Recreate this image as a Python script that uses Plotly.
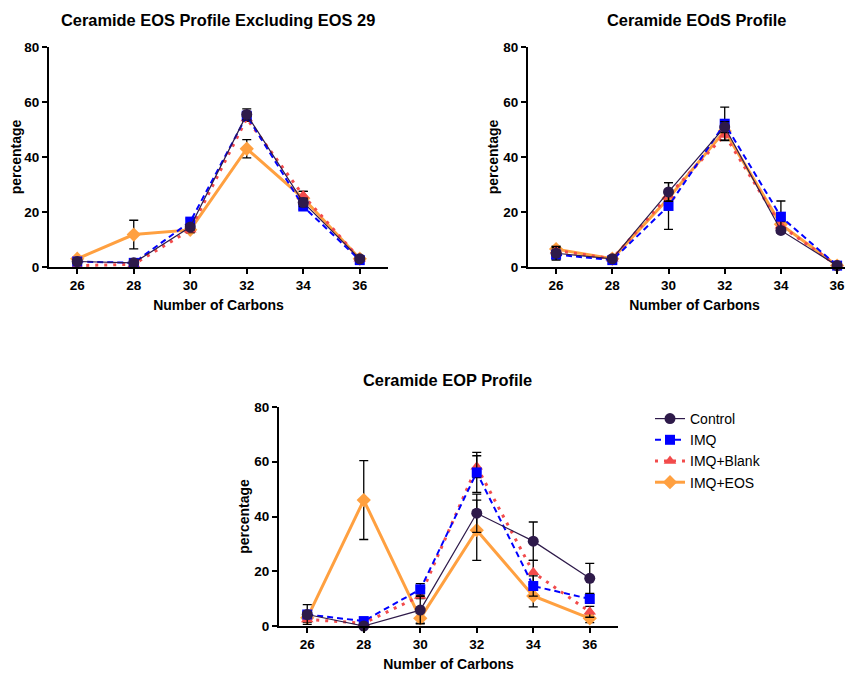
import plotly.graph_objects as go

carbons = [26, 28, 30, 32, 34, 36]
series_names = ["Control", "IMQ", "IMQ+Blank", "IMQ+EOS"]

# Panel 1: Ceramide EOS Profile Excluding EOS 29
eos_control = [2.0, 1.5, 14.5, 55.5, 23.5, 3.0]
eos_imq = [2.0, 1.5, 16.5, 55.0, 22.0, 2.5]
eos_blank = [0.5, 1.0, 13.5, 54.0, 26.0, 3.0]
eos_eos = [3.0, 11.8, 13.5, 43.0, 25.0, 3.0]
eos_control_err = [0.5, 0.5, 1.0, 2.0, 1.5, 0.5]
eos_imq_err = [0.5, 0.5, 1.0, 1.0, 1.0, 0.5]
eos_blank_err = [0.3, 0.3, 1.0, 1.0, 1.5, 0.5]
eos_eos_err = [0.5, 5.2, 1.0, 3.3, 2.5, 0.5]

# Panel 2: Ceramide EOdS Profile
eods_control = [5.0, 3.0, 27.3, 50.9, 13.3, 0.5]
eods_imq = [4.5, 2.5, 22.2, 52.1, 18.3, 0.5]
eods_blank = [6.0, 3.0, 26.0, 48.0, 15.0, 0.5]
eods_eos = [6.5, 3.0, 25.0, 49.5, 15.5, 0.5]
eods_control_err = [2.5, 0.5, 3.4, 2.0, 1.0, 0.3]
eods_imq_err = [1.5, 0.5, 8.5, 6.0, 5.7, 0.3]
eods_blank_err = [1.0, 0.5, 2.0, 2.0, 1.5, 0.3]
eods_eos_err = [1.0, 0.5, 2.0, 2.0, 1.5, 0.3]

# Panel 3: Ceramide EOP Profile
eop_control = [4.2, 0.0, 5.8, 41.2, 31.0, 17.4]
eop_imq = [4.2, 1.8, 13.4, 56.1, 14.6, 9.9]
eop_blank = [2.4, 1.0, 11.0, 58.2, 19.6, 5.2]
eop_eos = [3.0, 46.0, 2.8, 35.0, 11.0, 2.8]
eop_control_err = [3.6, 0.3, 5.0, 7.0, 7.0, 5.5]
eop_imq_err = [1.0, 0.5, 2.1, 7.3, 3.7, 1.6]
eop_blank_err = [1.0, 0.5, 1.0, 4.0, 4.4, 2.0]
eop_eos_err = [1.5, 14.4, 1.8, 11.0, 4.0, 1.6]

y_ticks = [0, 20, 40, 60, 80]
x_ticks = [26, 28, 30, 32, 34, 36]

panel_titles = ["Ceramide EOS Profile Excluding EOS 29", "Ceramide EOdS Profile", "Ceramide EOP Profile"]
x_title = "Number of Carbons"
y_title = "percentage"

styles = {
    "Control": dict(color="#2E1A4A", symbol="circle", dash="solid", width=1.2, size=11),
    "IMQ": dict(color="#0000FF", symbol="square", dash="6px,4px", width=2, size=10),
    "IMQ+Blank": dict(color="#F24B4B", symbol="triangle-up", dash="3px,6px", width=3, size=11),
    "IMQ+EOS": dict(color="#FFA040", symbol="diamond", dash="solid", width=3, size=11),
}

panels = [
    ("x", "y", {"Control": (eos_control, eos_control_err), "IMQ": (eos_imq, eos_imq_err),
                "IMQ+Blank": (eos_blank, eos_blank_err), "IMQ+EOS": (eos_eos, eos_eos_err)}),
    ("x2", "y2", {"Control": (eods_control, eods_control_err), "IMQ": (eods_imq, eods_imq_err),
                  "IMQ+Blank": (eods_blank, eods_blank_err), "IMQ+EOS": (eods_eos, eods_eos_err)}),
    ("x3", "y3", {"Control": (eop_control, eop_control_err), "IMQ": (eop_imq, eop_imq_err),
                  "IMQ+Blank": (eop_blank, eop_blank_err), "IMQ+EOS": (eop_eos, eop_eos_err)}),
]

fig = go.Figure()
draw_order = ["IMQ+EOS", "IMQ+Blank", "IMQ", "Control"]
for pi, (xa, ya, data) in enumerate(panels):
    for name in draw_order:
        vals, errs = data[name]
        st = styles[name]
        fig.add_trace(go.Scatter(
            x=carbons, y=vals, name=name, xaxis=xa, yaxis=ya,
            mode="lines+markers", cliponaxis=False,
            line=dict(color=st["color"], dash=st["dash"], width=st["width"]),
            marker=dict(color=st["color"], symbol=st["symbol"], size=st["size"]),
            error_y=dict(type="data", array=errs, color="black", thickness=1.3, width=4.5),
            showlegend=(pi == 2), legendrank=series_names.index(name) + 1,
        ))

W, H = 853, 673
OFF = 8  # page body margin offset
font_family = "Liberation Sans, Arial, sans-serif"

def xaxis(x0, x1, rng, anchor):
    return dict(domain=[(x0 - OFF) / W, min(1, (x1 - OFF) / W)], range=rng, tickvals=x_ticks, anchor=anchor,
                automargin=False,
                showgrid=False, zeroline=False, showline=True, linecolor="black", linewidth=2,
                ticks="outside", ticklen=5, tickwidth=2, tickcolor="black",
                tickfont=dict(family=font_family, size=13.5, color="black", weight="bold"),
                title=dict(text=x_title, standoff=8,
                           font=dict(family=font_family, size=14, color="black", weight="bold")))

def yaxis(ytop, ybot, anchor):
    return dict(domain=[1 - (ybot - OFF) / H, 1 - (ytop - OFF) / H], range=[0, 80], tickvals=y_ticks,
                anchor=anchor, automargin=False,
                showgrid=False, zeroline=False, showline=True, linecolor="black", linewidth=2,
                ticks="outside", ticklen=5, tickwidth=2, tickcolor="black",
                tickfont=dict(family=font_family, size=13.5, color="black", weight="bold"),
                title=dict(text=y_title, standoff=1,
                           font=dict(family=font_family, size=14, color="black", weight="bold")))

fig.update_layout(
    width=W, height=H, margin=dict(l=0, r=0, t=0, b=0, autoexpand=False),
    paper_bgcolor="white", plot_bgcolor="white",
    font=dict(family=font_family, color="black"),
    xaxis=xaxis(49, 388, [25, 37], "y"),
    yaxis=yaxis(47, 267, "x"),
    xaxis2=xaxis(528, 861, [25, 36.85], "y2"),
    yaxis2=yaxis(47, 267, "x2"),
    xaxis3=xaxis(279, 618, [25, 37], "y3"),
    yaxis3=yaxis(407, 626, "x3"),
    legend=dict(x=(650 - OFF) / W, y=1 - (403 - OFF) / H, xanchor="left", yanchor="top",
                font=dict(family=font_family, size=14, color="black"),
                bgcolor="rgba(0,0,0,0)", tracegroupgap=0),
)

title_pos = [(218, 20), (696, 20), (448, 380)]
for t, (cx, cy) in zip(panel_titles, title_pos):
    fig.add_annotation(text=t, x=(cx - OFF) / W, y=1 - (cy - OFF) / H, xref="paper", yref="paper",
                       xanchor="center", yanchor="middle", showarrow=False,
                       font=dict(family=font_family, size=16.4, color="black", weight="bold"))

fig.write_html("out.html")
